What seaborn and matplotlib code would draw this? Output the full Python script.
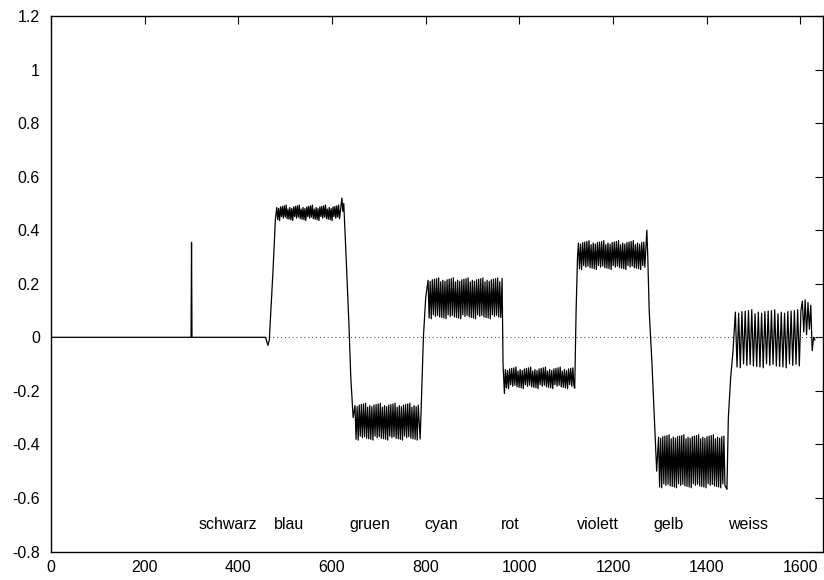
import numpy as np
import pandas as pd
import matplotlib
matplotlib.use("Agg")
import matplotlib.pyplot as plt
import seaborn as sns

# Colour bar names and where their labels sit
color_names = ["schwarz", "blau", "gruen", "cyan", "rot", "violett", "gelb", "weiss"]
label_x = [315, 475, 638, 798, 960, 1122, 1285, 1445]
label_y = -0.7

# Plateau of each coloured bar: start/end sample, upper/lower ripple level, ripple period
band_start = [482, 649, 805, 970, 1126, 1297, 1461]
band_end = [618, 786, 961, 1117, 1270, 1441, 1598]
band_high = [0.485, -0.255, 0.213, -0.120, 0.352, -0.373, 0.094]
band_low = [0.445, -0.375, 0.078, -0.183, 0.262, -0.553, -0.105]
band_period = [4.0, 4.5, 4.5, 4.5, 4.5, 4.5, 7.0]

# Baseline, spikes and edges between the plateaus
edge_x = [0, 296, 299, 300, 301, 303, 458, 463, 466, 474, 479,
          621, 623, 625, 630, 636, 640, 645,
          788, 790, 795, 800,
          963, 965, 968,
          1118, 1121, 1124,
          1272, 1274, 1277, 1283, 1288, 1293,
          1443, 1446, 1451, 1456,
          1601, 1604, 1607, 1610, 1613, 1616, 1619, 1622, 1625, 1628, 1631]
edge_y = [0.0, 0.0, 0.0, 0.355, 0.0, 0.0, 0.0, -0.03, -0.01, 0.25, 0.44,
          0.52, 0.47, 0.50, 0.30, 0.05, -0.15, -0.30,
          -0.38, -0.28, 0.0, 0.15,
          0.22, -0.10, -0.21,
          -0.19, 0.10, 0.30,
          0.40, 0.30, 0.10, -0.10, -0.30, -0.50,
          -0.568, -0.30, -0.15, -0.05,
          0.10, 0.135, 0.02, 0.14, 0.01, 0.13, 0.03, 0.12, -0.05, 0.0, -0.01]

# Small repeating offsets so the ripple peaks are not perfectly flat
ripple_trim = [0.0, 0.006, -0.004, 0.009, 0.002, -0.006, 0.004]

xs, ys = list(edge_x), list(edge_y)
for s, e, hi, lo, p in zip(band_start, band_end, band_high, band_low, band_period):
    half = p / 2.0
    pos = np.arange(s, e, half)
    for k, xv in enumerate(pos):
        trim = ripple_trim[k % len(ripple_trim)]
        level = hi if k % 2 == 0 else lo
        xs.append(float(xv))
        ys.append(level + (trim if k % 2 == 0 else -trim))

df = pd.DataFrame({"sample": xs, "value": ys}).sort_values("sample")

sns.set_style("white")
plt.rcParams["font.family"] = ["Liberation Sans", "DejaVu Sans"]
plt.rcParams["axes.unicode_minus"] = False

fig = plt.figure(figsize=(8.24, 5.80), dpi=100)
ax = fig.add_axes([51 / 824, 1 - 551.5 / 580, (822.5 - 51) / 824, (551.5 - 16) / 580])

ax.axhline(0, color="#555555", lw=0.8, ls=(0, (1, 2.5)), zorder=1)
sns.lineplot(data=df, x="sample", y="value", color="black", lw=0.9,
             estimator=None, sort=False, ax=ax, zorder=2)

for name, lx in zip(color_names, label_x):
    ax.text(lx, label_y, name, fontsize=11.5, ha="left", va="center", color="black")

ax.set_xlim(0, 1647)
ax.set_ylim(-0.8, 1.2)
xt = [0, 200, 400, 600, 800, 1000, 1200, 1400, 1600]
yt = [-0.8, -0.6, -0.4, -0.2, 0, 0.2, 0.4, 0.6, 0.8, 1, 1.2]
ax.set_xticks(xt)
ax.set_xticklabels([f"{v:g}" for v in xt])
ax.set_yticks(yt)
ax.set_yticklabels([f"{v:g}" for v in yt])
ax.set_xlabel("")
ax.set_ylabel("")
ax.tick_params(direction="in", top=True, right=True, length=6, width=0.8,
               labelsize=11.5, colors="black")
ax.tick_params(axis="y", pad=8)
ax.tick_params(axis="x", pad=6)
for sp in ax.spines.values():
    sp.set_visible(True)
    sp.set_color("black")
    sp.set_linewidth(1.0)

fig.savefig("out.png", dpi=100)
